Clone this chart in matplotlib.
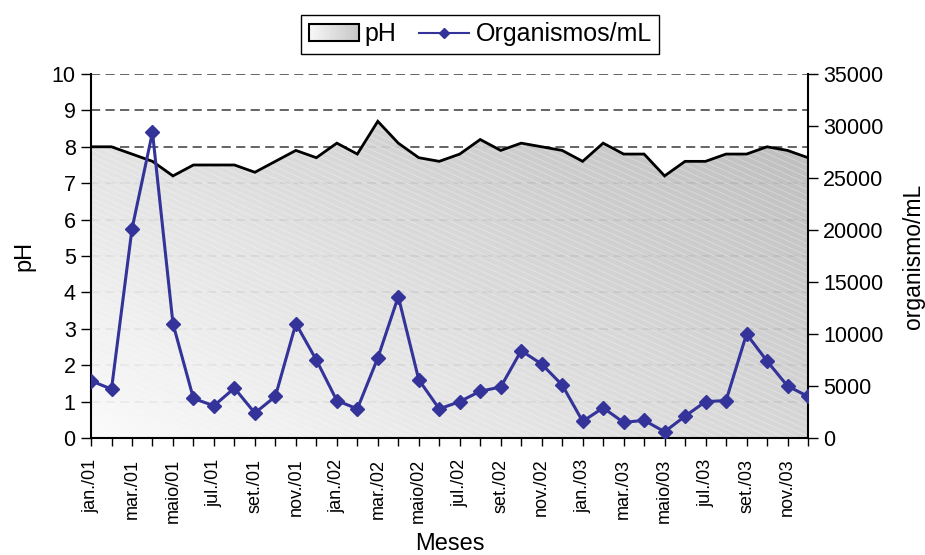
import numpy as np
import matplotlib
matplotlib.use("Agg")
import matplotlib.pyplot as plt
from matplotlib.collections import LineCollection
from matplotlib.legend_handler import HandlerBase
from matplotlib.patches import Rectangle
from matplotlib.lines import Line2D
from matplotlib.colors import LinearSegmentedColormap

plt.rcParams['font.family'] = ['Liberation Sans', 'DejaVu Sans']

# Monthly series, Jan/2001 - Dec/2003
months = ["jan./01", "fev./01", "mar./01", "abr./01", "maio/01", "jun./01",
          "jul./01", "ago./01", "set./01", "out./01", "nov./01", "dez./01",
          "jan./02", "fev./02", "mar./02", "abr./02", "maio/02", "jun./02",
          "jul./02", "ago./02", "set./02", "out./02", "nov./02", "dez./02",
          "jan./03", "fev./03", "mar./03", "abr./03", "maio/03", "jun./03",
          "jul./03", "ago./03", "set./03", "out./03", "nov./03", "dez./03"]

ph = [8.0, 8.0, 7.8, 7.6, 7.2, 7.5, 7.5, 7.5, 7.3, 7.6, 7.9, 7.7,
      8.1, 7.8, 8.7, 8.1, 7.7, 7.6, 7.8, 8.2, 7.9, 8.1, 8.0, 7.9,
      7.6, 8.1, 7.8, 7.8, 7.2, 7.6, 7.6, 7.8, 7.8, 8.0, 7.9, 7.7]

organismos = [5500, 4700, 20100, 29400, 11000, 3800, 3100, 4800, 2400, 4000, 11000, 7500,
              3600, 2800, 7700, 13600, 5600, 2800, 3500, 4500, 4900, 8400, 7100, 5100,
              1600, 2900, 1500, 1700, 600, 2100, 3500, 3600, 10000, 7400, 5000, 4000]

x = np.arange(len(months))

fig = plt.figure(figsize=(9.25, 5.55), dpi=100)
ax = fig.add_axes([0.0984, 0.2108, 0.7751, 0.6559])
ax.set_xlim(0, len(months) - 1)
ax.set_ylim(0, 10)

# dashed horizontal grid behind the pH area
for lvl in range(1, 11):
    ax.axhline(lvl, color='#3a3a3a', lw=1.1, ls=(0, (6, 3.5)), zorder=1)

# pH area with diagonal grey gradient
poly = ax.fill_between(x, 0, ph, facecolor='none', edgecolor='none', zorder=2)
cmap = LinearSegmentedColormap.from_list('g', ['#fbfbfb', '#b4b4b4'])
gx, gy = np.meshgrid(np.linspace(0, 1, 400), np.linspace(0, 1, 300))
grad = 0.55 * gx + 0.45 * gy
img = ax.imshow(grad, cmap=cmap, extent=[0, 1, 0, 1], origin='lower',
                transform=ax.transAxes, aspect='auto', zorder=2, alpha=0.93,
                interpolation='bilinear')
img.set_clip_path(poly.get_paths()[0], ax.transData)

# faint diagonal sheen stripes inside the area
slope = -0.886
cs = np.arange(0.0, 1.95, 0.0165)
segs = [[(0, c), (1, c + slope)] for c in cs]
lc = LineCollection(segs, colors='white', linewidths=0.6, alpha=0.35,
                    transform=ax.transAxes, zorder=3)
ax.add_collection(lc)
lc.set_clip_path(poly.get_paths()[0], ax.transData)

ax.plot(x, ph, color='black', lw=2.0, zorder=4, solid_joinstyle='miter')

# axes styling
ax.spines['top'].set_visible(False)
ax.spines['right'].set_visible(False)
for s in ('left', 'bottom'):
    ax.spines[s].set_linewidth(1.5)
    ax.spines[s].set_zorder(6)
ax.set_yticks(range(0, 11))
ax.tick_params(axis='y', direction='out', length=7, width=1, labelsize=15.5, pad=4)
ax.set_xticks(x)
ax.set_xticklabels([m if i % 2 == 0 else '' for i, m in enumerate(months)],
                   rotation=90, fontsize=13)
ax.tick_params(axis='x', direction='out', length=6, width=1, pad=9)
ax.set_ylabel('pH', fontsize=17)
ax.yaxis.set_label_coords(-0.077, 0.5)
ax.set_xlabel('Meses', fontsize=17)
ax.xaxis.set_label_coords(0.5, -0.26)

# organisms on the secondary axis
ax2 = ax.twinx()
ax2.set_ylim(0, 35000)
ax2.set_yticks(range(0, 35001, 5000))
ax2.plot(x, organismos, color='#333399', lw=2.2, marker='D', ms=7,
         markeredgecolor='#333399', zorder=5)
ax2.spines['top'].set_visible(False)
ax2.spines['left'].set_visible(False)
ax2.spines['bottom'].set_visible(False)
ax2.spines['right'].set_linewidth(1.5)
ax2.tick_params(axis='y', direction='out', length=7, width=1, labelsize=15.5, pad=4)
ax2.set_ylabel('organismo/mL', fontsize=16.5)
ax2.yaxis.set_label_coords(1.131, 0.5)


class GradientPatchHandler(HandlerBase):
    def create_artists(self, legend, orig_handle, xdescent, ydescent,
                       width, height, fontsize, trans):
        arts = []
        n = 20
        shades = np.linspace(0.97, 0.78, n)
        for i in range(n):
            r = Rectangle((-xdescent + width * i / n, -ydescent), width / n + 0.3, height,
                          facecolor=str(shades[i]), edgecolor='none', transform=trans)
            arts.append(r)
        arts.append(Rectangle((-xdescent, -ydescent), width, height, facecolor='none',
                              edgecolor='black', lw=1.5, transform=trans))
        return arts


ph_handle = Rectangle((0, 0), 1, 1)
org_handle = Line2D([], [], color='#333399', lw=1.5, marker='D', ms=5)
leg = fig.legend([ph_handle, org_handle], ['pH', 'Organismos/mL'],
                 loc='center', bbox_to_anchor=(0.519, 0.938), ncol=2, fontsize=18,
                 frameon=True, fancybox=False, edgecolor='black', framealpha=1,
                 handlelength=2.0, handletextpad=0.25, columnspacing=0.9,
                 borderpad=0.3, handler_map={Rectangle: GradientPatchHandler()})
leg.get_frame().set_linewidth(1.0)

fig.savefig('out.png', dpi=100)
